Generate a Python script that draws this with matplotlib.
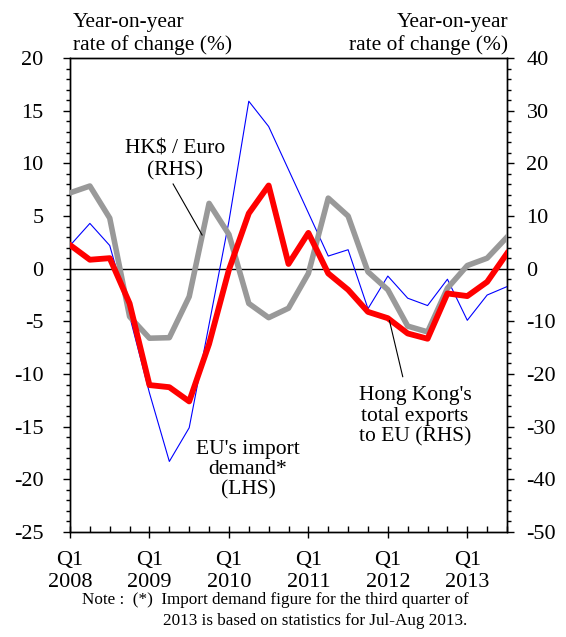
import numpy as np
import matplotlib
matplotlib.use("Agg")
import matplotlib.pyplot as plt

plt.rcParams['font.family'] = ['Liberation Serif', 'DejaVu Serif']
plt.rcParams['axes.unicode_minus'] = False

# ============================================================
# Дані (квартали Q1 2008 .. Q3 2013)
# ============================================================

quarters = np.arange(23)

# Імпортний попит ЄС, % (ліва вісь)
eu_import = [2.2, 4.3, 2.2, -4.5, -11.8, -18.3, -15.1, -5.3, 4.5, 15.9,
             13.5, 9.4, 5.3, 1.2, 1.8, -3.8, -0.7, -2.8, -3.5, -1.0,
             -4.9, -2.5, -1.7]

# Загальний експорт Гонконгу до ЄС, % (права вісь)
hk_exports = [4.5, 1.7, 2.0, -6.6, -22.1, -22.5, -25.2, -14.3, -0.2, 10.5,
              15.8, 0.9, 6.8, -0.9, -4.0, -8.2, -9.4, -12.3, -13.3, -4.7,
              -5.2, -2.5, 2.9]

# HK$ / Euro, % (права вісь)
hkd_euro = [14.4, 15.7, 9.6, -9.1, -13.2, -13.1, -5.3, 12.4, 6.5, -6.6,
            -9.3, -7.5, -0.9, 13.4, 10.0, -0.6, -4.0, -10.9, -12.0, -3.7,
            0.6, 2.0, 6.0]

xtick_pos = [0, 4, 8, 12, 16, 20]
xtick_labels = ["Q1\n2008", "Q1\n2009", "Q1\n2010", "Q1\n2011", "Q1\n2012", "Q1\n2013"]

# ============================================================
# Графік
# ============================================================

fig = plt.figure(figsize=(5.66, 6.37), dpi=100)
ax = fig.add_axes([0.1237, 0.1648, 0.7721, 0.7441])
ax2 = ax.twinx()

# права вісь = 2 x ліва, тому праві ряди малюємо на ax у масштабі 1/2
scale = 2.0
ax.set_zorder(1)
ax.patch.set_visible(False)

ax.axhline(0, color='black', lw=1.0, zorder=1)
ax.plot(quarters, eu_import, color='#0000FF', lw=0.8, zorder=2)
ax.plot(quarters, np.array(hkd_euro) / scale, color='#999999', lw=4.0, zorder=3)
ax.plot(quarters, np.array(hk_exports) / scale, color='#FF0000', lw=4.2, zorder=4)

ax.set_xlim(0, 22)
ax.set_ylim(-25, 20)
ax2.set_ylim(-50, 40)

ax.set_yticks(np.arange(-25, 21, 5))
ax.set_yticks(np.arange(-25, 21, 1), minor=True)
ax2.set_yticks(np.arange(-50, 41, 10))
ax2.set_yticks(np.arange(-50, 41, 2), minor=True)
ax.set_xticks(xtick_pos)
ax.set_xticklabels(xtick_labels, linespacing=1.2)
ax.set_xticks(quarters, minor=True)

ax.tick_params(axis='y', which='major', direction='out', length=5, width=1, labelsize=16, pad=14)
ax.tick_params(axis='y', which='minor', direction='out', length=3, width=1)
ax2.tick_params(axis='y', which='major', direction='out', length=5, width=1, labelsize=16, pad=9)
ax2.tick_params(axis='y', which='minor', direction='out', length=3, width=1)
ax.tick_params(axis='x', which='major', direction='inout', length=8, width=1, labelsize=16, pad=10)
ax.tick_params(axis='x', which='minor', direction='in', length=4, width=1)

for a in (ax, ax2):
    for sp in a.spines.values():
        sp.set_linewidth(1.0)

# Підписи осей
fig.text(0.129, 0.946, "Year-on-year\nrate of change (%)", ha='left', va='center',
         fontsize=15.4, linespacing=1.2)
fig.text(0.8975, 0.946, "Year-on-year\nrate of change (%)", ha='right', va='center',
         fontsize=15.4, multialignment='right', linespacing=1.2)

# Анотації
ax.text(5.31, 10.3, "HK$ / Euro\n(RHS)", ha='center', va='center', fontsize=15.5, linespacing=1.2)
ax.plot([5.19, 6.65], [8.04, 3.2], color='black', lw=0.8, zorder=5)

ax.text(8.96, -19.1, "EU's import\ndemand*\n(LHS)", ha='center', va='center',
        fontsize=15.5, linespacing=1.1)

ax.text(17.37, -14.0, "Hong Kong's\ntotal exports\nto EU (RHS)", ha='center', va='center',
        fontsize=15.5, linespacing=1.1)
ax.plot([16.08, 16.75], [-4.93, -10.25], color='black', lw=0.8, zorder=5)

fig.text(0.145, 1 - 600 / 637, "Note :  (*)  Import demand figure for the third quarter of",
         ha='left', va='center', fontsize=12.3)
fig.text(0.288, 1 - 621 / 637, "2013 is based on statistics for Jul-Aug 2013.",
         ha='left', va='center', fontsize=12.3)

fig.savefig("out.png", dpi=100)
